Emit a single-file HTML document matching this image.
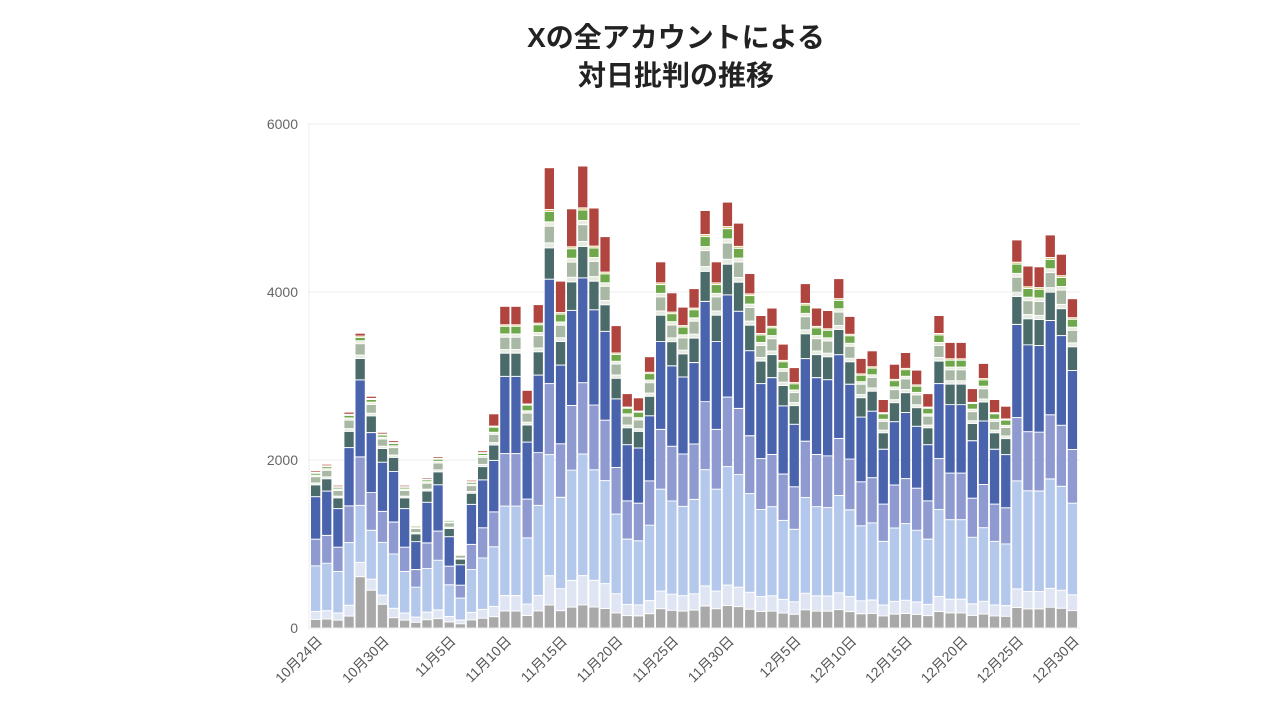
<!DOCTYPE html>
<html><head><meta charset="utf-8"><style>
body{margin:0;background:#fff;}
svg{display:block;font-family:"Liberation Sans","Noto Sans CJK JP",sans-serif;}
</style></head><body>
<svg id="c" width="1280" height="720" xmlns="http://www.w3.org/2000/svg">
<text x="676" y="47" text-anchor="middle" font-size="28" font-weight="bold" fill="#222">Xの全アカウントによる</text>
<text x="676" y="85" text-anchor="middle" font-size="28" font-weight="bold" fill="#222">対日批判の推移</text>
<g font-size="14" fill="#666" text-anchor="end">
<text x="298" y="129">6000</text><text x="298" y="297">4000</text><text x="298" y="465">2000</text><text x="298" y="633">0</text>
</g>
<g stroke="#ececec" stroke-width="1">
<line x1="308" y1="124" x2="1080" y2="124"/><line x1="308" y1="292" x2="1080" y2="292"/><line x1="308" y1="460" x2="1080" y2="460"/><line x1="308" y1="628" x2="1080" y2="628"/>
<line x1="309" y1="124" x2="309" y2="628"/>
</g>
<g id="bars"></g>
<g id="lbl" font-size="14" fill="#555"></g>
</svg>
<script>
var T=[1870,1950,1700,2570,3510,2760,2330,2230,1700,1230,1790,2040,1300,900,1760,2110,2550,3830,3830,2830,3850,5480,4130,4990,5500,5000,4660,3600,2790,2740,3230,4360,3990,3820,4040,4970,4360,5070,4820,4220,3720,3810,3380,3100,4100,3810,3780,4160,3710,3210,3300,2720,3140,3280,3070,2790,3720,3400,3400,2850,3150,2720,2640,4620,4310,4300,4680,4450,3920];
var C=["#a9a9a9","#dfe5f3","#b4c8ec","#8f9bd0","#4a63ad","#4b6b6b","#e6ebe2","#a9b8a4","#e9ecdf","#6fa84a","#d8c070","#b0443e"];
var P=[0.055,0.05,0.29,0.17,0.25,0.075,0.012,0.04,0.01,0.025,0.005,0.06];
var svg="";
for(var i=0;i<T.length;i++){
 var p=P.slice();
 if(i<16){p[11]=0.01;p[9]=0.012;p[4]=0.27;}
 if(i==4){p[0]=0.18;p[2]=0.2;}
 if(i==5){p[0]=0.17;p[2]=0.22;}
 if(i==6){p[0]=0.13;}
 if(i>=21&&i<=27){p[11]=0.1;p[1]=0.07;}
 var s=0;for(var k=0;k<p.length;k++)s+=p[k];
 var x=311+i*11.13, y=628, h=T[i]*0.084;
 for(var k=0;k<p.length;k++){
  var sh=h*p[k]/s;
  if(sh>=1.2) svg+='<rect x="'+x.toFixed(1)+'" y="'+(y-sh+0.5).toFixed(1)+'" width="9.3" height="'+Math.max(sh-1,0.5).toFixed(1)+'" fill="'+C[k]+'"/>';
  y-=sh;
 }
}
document.getElementById("bars").innerHTML=svg;
var L=[[0,"10月24日"],[6,"10月30日"],[12,"11月5日"],[17,"11月10日"],[22,"11月15日"],[27,"11月20日"],[32,"11月25日"],[37,"11月30日"],[43,"12月5日"],[48,"12月10日"],[53,"12月15日"],[58,"12月20日"],[63,"12月25日"],[68,"12月30日"]];
var t="";
L.forEach(function(l){var cx=316+l[0]*11.13+7;t+='<text text-anchor="end" transform="translate('+cx+',642) rotate(-45)">'+l[1]+'</text>';});
document.getElementById("lbl").innerHTML=t;
</script>
</body></html>
